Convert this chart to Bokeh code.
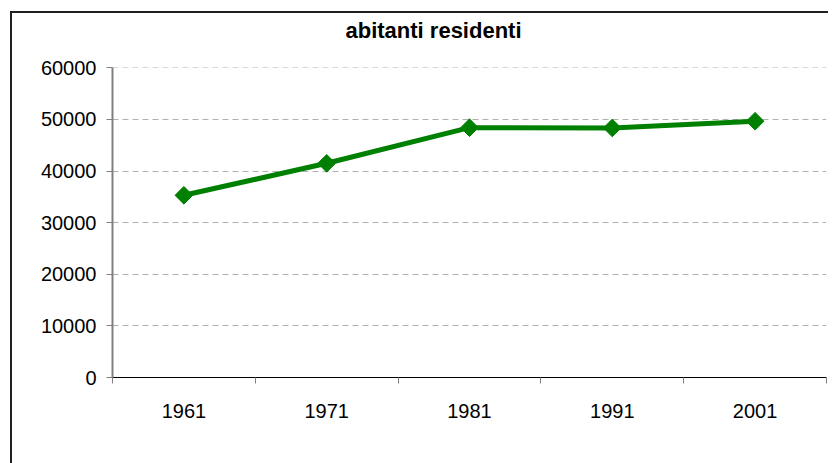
import math
from bokeh.plotting import figure
from bokeh.layouts import column
from bokeh.models import Range1d, FixedTicker, ColumnDataSource, Title
from bokeh.embed import file_html
from bokeh.resources import INLINE

# ---- data ----
years = ["1961", "1971", "1981", "1991", "2001"]
residents = [35300, 41500, 48400, 48350, 49650]
y_ticks = [0, 10000, 20000, 30000, 40000, 50000, 60000]
title_text = "abitanti residenti"

xpos = [i + 0.5 for i in range(len(years))]
source = ColumnDataSource(dict(x=xpos, y=residents, year=years))

FONT = "Liberation Sans"

p = figure(width=816, height=450, output_backend="svg", toolbar_location=None,
           x_range=Range1d(0, len(years)), y_range=Range1d(0, 60060),
           min_border_left=100, min_border_right=2, min_border_top=54,
           min_border_bottom=86, title=None, margin=0)
p.outline_line_color = None
p.background_fill_color = "white"
p.border_fill_color = "white"

# spacer between title and plot frame
p.add_layout(Title(text=" ", text_font=FONT, text_font_size="20px", standoff=0), "above")
p.add_layout(Title(text=title_text, text_font=FONT, text_font_size="22px",
                   text_font_style="bold", text_color="black", align="left",
                   offset=233, standoff=2), "above")

# x axis: labels at category centres, tick marks between categories
xa = p.xaxis[0]
xa.ticker = FixedTicker(ticks=xpos, minor_ticks=list(range(len(years) + 1)))
xa.major_label_overrides = {x: y for x, y in zip(xpos, years)}
xa.major_tick_in = 0
xa.major_tick_out = 0
xa.minor_tick_in = 0
xa.minor_tick_out = 6
xa.minor_tick_line_color = "#808080"
xa.axis_line_color = "black"
xa.axis_line_width = 1
xa.major_label_text_font = FONT
xa.major_label_text_font_size = "20px"
xa.major_label_text_color = "black"
xa.major_label_standoff = 20

ya = p.yaxis[0]
ya.ticker = FixedTicker(ticks=y_ticks)
ya.minor_tick_line_color = None
ya.major_tick_in = 0
ya.major_tick_out = 6
ya.major_tick_line_color = "#808080"
ya.axis_line_color = "#808080"
ya.axis_line_width = 2
ya.major_label_text_font = FONT
ya.major_label_text_font_size = "20px"
ya.major_label_text_color = "black"
ya.major_label_standoff = 10

p.xgrid.grid_line_color = None
p.ygrid.grid_line_color = "#b0b0b0"
p.ygrid.grid_line_dash = "6 4"
p.ygrid.grid_line_width = 1

p.line("x", "y", source=source, line_color="#008000", line_width=5)
p.scatter("x", "y", source=source, marker="square", angle=math.pi / 4, size=12.5,
          fill_color="#008000", line_color="#008000")

layout = column(p, margin=(11, 0, 0, 10),
                styles={"border-left": "2px solid #202020",
                        "border-top": "2px solid #202020"})

open("out.html", "w").write(file_html(layout, INLINE))
